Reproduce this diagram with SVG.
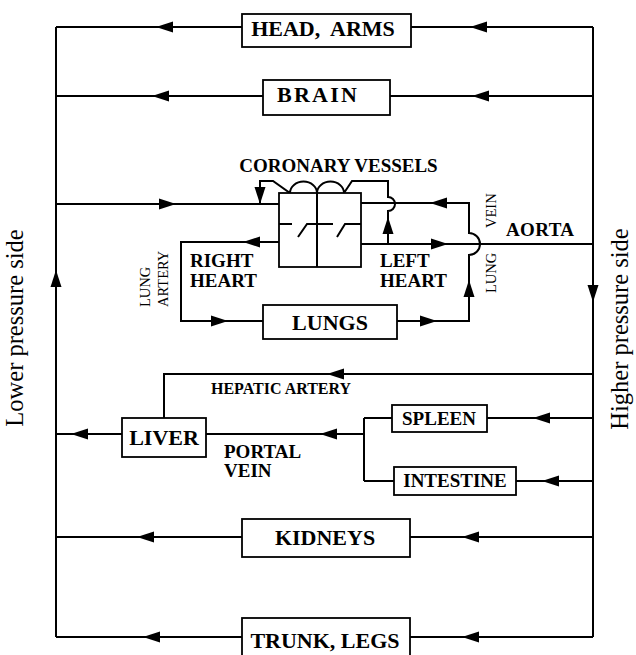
<svg xmlns="http://www.w3.org/2000/svg" xmlns:xlink="http://www.w3.org/1999/xlink" width="636" height="655" viewBox="0 0 636 655">
<style>
.ln{fill:none;stroke:#000;stroke-width:2;stroke-linejoin:miter}
.bx{fill:#fff;stroke:#000;stroke-width:1.8}
.t{font-family:"Liberation Serif","Times New Roman",serif;font-weight:bold;fill:#000}
.big{font-size:22px}
.mid{font-size:19px}
.sm{font-size:16px}
.reg{font-family:"Liberation Serif","Times New Roman",serif;font-weight:normal;fill:#000}
.ah{fill:#000}
</style>
<defs>
<path id="ah" d="M0,0 L-17,-5.5 L-17,5.5 Z"/>
</defs>
<rect width="636" height="655" fill="#fff"/>
<g id="connectors">
<path class="ln" d="M56,27 L56,637 M593,27 L593,637"/>
<path class="ln" d="M56,27 L242,27 M411,27 L593,27"/>
<path class="ln" d="M56,96 L263,96 M390,96 L593,96"/>
<path class="ln" d="M56,204 L279,204"/>
<path class="ln" d="M279,242 L181,242 L181,321 L263,321"/>
<path class="ln" d="M397,321 L469,321 L469,255 A11,11 0 0 0 469,233 L469,203 L361,203"/>
<path class="ln" d="M361,244 L593,244"/>
<path class="ln" d="M388,244 L388,211 A7,7 0 0 0 388,197 L388,181 L352,181 L344,193 A13,11 0 0 0 317,193 A13,11 0 0 0 290,193 L273,181 L260,181 L260,204"/>
<path class="ln" d="M593,374 L164,374 L164,418"/>
<path class="ln" d="M56,434 L122,434 M206,434 L364,434 M364,418 L364,481 M364,418 L392,418 M364,481 L394,481"/>
<path class="ln" d="M487,418 L593,418 M516,481 L593,481"/>
<path class="ln" d="M56,537 L242,537 M410,537 L593,537"/>
<path class="ln" d="M56,637 L242,637 M410,637 L593,637"/>
<g class="ah">
<use xlink:href="#ah" transform="translate(156,27) rotate(180)"/>
<use xlink:href="#ah" transform="translate(470,27) rotate(180)"/>
<use xlink:href="#ah" transform="translate(152,96) rotate(180)"/>
<use xlink:href="#ah" transform="translate(472,96) rotate(180)"/>
<use xlink:href="#ah" transform="translate(176,204)"/>
<use xlink:href="#ah" transform="translate(260,204) rotate(90)"/>
<use xlink:href="#ah" transform="translate(243,242) rotate(180)"/>
<use xlink:href="#ah" transform="translate(228,321)"/>
<use xlink:href="#ah" transform="translate(437,321)"/>
<use xlink:href="#ah" transform="translate(469,280) rotate(-90)"/>
<use xlink:href="#ah" transform="translate(430,203) rotate(180)"/>
<use xlink:href="#ah" transform="translate(388,217) rotate(-90)"/>
<use xlink:href="#ah" transform="translate(448,244)"/>
<use xlink:href="#ah" transform="translate(593,302) rotate(90)"/>
<use xlink:href="#ah" transform="translate(56,270) rotate(-90)"/>
<use xlink:href="#ah" transform="translate(327,374) rotate(180)"/>
<use xlink:href="#ah" transform="translate(71,434) rotate(180)"/>
<use xlink:href="#ah" transform="translate(320,434) rotate(180)"/>
<use xlink:href="#ah" transform="translate(533,418) rotate(180)"/>
<use xlink:href="#ah" transform="translate(542,481) rotate(180)"/>
<use xlink:href="#ah" transform="translate(137,537) rotate(180)"/>
<use xlink:href="#ah" transform="translate(462,537) rotate(180)"/>
<use xlink:href="#ah" transform="translate(143,637) rotate(180)"/>
<use xlink:href="#ah" transform="translate(462,637) rotate(180)"/>
</g>
</g>
<g id="head-arms">
<rect class="bx" x="242" y="14" width="169" height="33"/>
<text class="t big" x="323" y="36" text-anchor="middle" xml:space="preserve">HEAD,  ARMS</text>
</g>
<g id="brain">
<rect class="bx" x="263" y="80" width="127" height="35"/>
<text class="t big" x="317" y="102" text-anchor="middle" textLength="80" lengthAdjust="spacing">BRAIN</text>
</g>
<g id="heart">
<text class="t mid" x="338.5" y="172" text-anchor="middle">CORONARY VESSELS</text>
<rect class="bx" x="279" y="193" width="82" height="74" fill="none"/>
<path class="ln" d="M317,193 L317,267 M279,224 L292,224 M298,237 L307,224 L333,224 M337,237 L345,224 L361,224"/>
<text class="t mid" x="190" y="267" font-size="18.5">RIGHT</text>
<text class="t mid" x="190" y="287" font-size="18.5">HEART</text>
<text class="t mid" x="380" y="267" font-size="18.5">LEFT</text>
<text class="t mid" x="380" y="287" font-size="18.5">HEART</text>
</g>
<g id="lung-artery-label">
<text class="reg" font-size="14.5" transform="translate(150,307) rotate(-90)">LUNG</text>
<text class="reg" font-size="14.5" transform="translate(168,307) rotate(-90)">ARTERY</text>
</g>
<g id="lungs">
<rect class="bx" x="263" y="305" width="134" height="34"/>
<text class="t big" x="330" y="330" text-anchor="middle">LUNGS</text>
</g>
<g id="lung-vein-label">
<text class="reg" font-size="14.5" transform="translate(496,293) rotate(-90)"><tspan x="0">LUNG</tspan><tspan x="65">VEIN</tspan></text>
</g>
<g id="aorta-label">
<text class="t mid" x="506" y="236" textLength="68" lengthAdjust="spacing">AORTA</text>
</g>
<g id="hepatic-artery-label">
<text class="t sm" x="211" y="394">HEPATIC ARTERY</text>
</g>
<g id="liver">
<rect class="bx" x="122" y="418" width="84" height="39"/>
<text class="t big" x="164" y="445" text-anchor="middle">LIVER</text>
</g>
<g id="portal-vein-label">
<text class="t mid" x="224" y="458">PORTAL</text>
<text class="t mid" x="224" y="477">VEIN</text>
</g>
<g id="spleen">
<rect class="bx" x="392" y="405" width="95" height="27"/>
<text class="t mid" x="439" y="425" text-anchor="middle">SPLEEN</text>
</g>
<g id="intestine">
<rect class="bx" x="394" y="467" width="122" height="28"/>
<text class="t mid" x="455" y="487" text-anchor="middle">INTESTINE</text>
</g>
<g id="kidneys">
<rect class="bx" x="242" y="519" width="168" height="38"/>
<text class="t big" x="325" y="545" text-anchor="middle">KIDNEYS</text>
</g>
<g id="trunk-legs">
<rect class="bx" x="242" y="618" width="168" height="45"/>
<text class="t big" x="325" y="648" text-anchor="middle">TRUNK, LEGS</text>
</g>
<g id="side-labels">
<text class="reg" font-size="24.5" text-anchor="middle" transform="translate(23,328) rotate(-90)">Lower pressure side</text>
<text class="reg" font-size="24.5" text-anchor="middle" transform="translate(628,329) rotate(-90)">Higher pressure side</text>
</g>
</svg>
